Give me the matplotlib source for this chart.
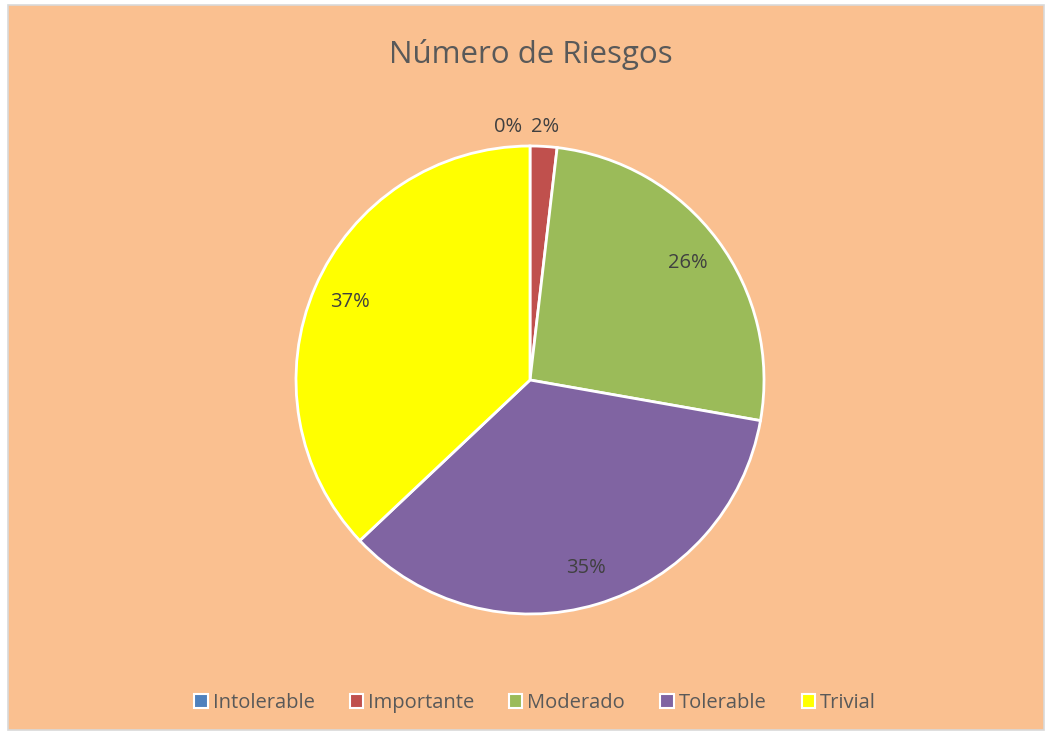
import matplotlib.pyplot as plt
import numpy as np
from matplotlib.patches import Rectangle, Patch

categories = ["Intolerable", "Importante", "Moderado", "Tolerable", "Trivial"]
counts = [0, 1, 14, 19, 20]
colors = ["#4F81BD", "#C0504D", "#9BBB59", "#8064A2", "#FFFF00"]

W, H = 1048, 735
fig = plt.figure(figsize=(W / 100, H / 100), dpi=100)
fig.patch.set_facecolor("white")
plt.rcParams["font.family"] = ["Open Sans", "DejaVu Sans"]

# fondo del gráfico
fig.patches.append(Rectangle((8 / W, 5 / H), 1036 / W, 725 / H,
                             transform=fig.transFigure, facecolor="#FAC090",
                             edgecolor="#D9D9D9", linewidth=1.2, zorder=-5))

fig.text(531 / W, 1 - 55 / H, "Número de Riesgos", ha="center", va="center",
         fontsize=22.5, color="#595959")

cx, cy, r = 530, 380, 234
ax = fig.add_axes([(cx - r) / W, (H - cy - r) / H, 2 * r / W, 2 * r / H])

total = sum(counts)
wedges, _, autotexts = ax.pie(
    counts, colors=colors, startangle=90, counterclock=False, radius=1,
    autopct=lambda p: f"{p:.0f}%" if p > 5 else "", pctdistance=0.84,
    wedgeprops=dict(edgecolor="white", linewidth=2),
    textprops=dict(fontsize=14.5, color="#404040"),
)
ax.set_xlim(-1, 1)
ax.set_ylim(-1, 1)
ax.axis("off")

# etiquetas de las porciones pequeñas, fuera del círculo
for w, c, shift in zip(wedges, counts, [5, 0, 0, 0, 0]):
    if c / total * 100 > 5:
        continue
    ang = np.deg2rad((w.theta1 + w.theta2) / 2 + shift)
    ax.text(1.085 * np.cos(ang), 1.085 * np.sin(ang), f"{c / total * 100:.0f}%",
            ha="center", va="center", fontsize=14.5, color="#404040", clip_on=False)

handles = [Patch(facecolor=c, edgecolor="white", linewidth=1.5) for c in colors]
fig.legend(handles, categories, loc="center", bbox_to_anchor=(535 / W, 1 - 703 / H),
           ncol=5, frameon=False, fontsize=14.5, labelcolor="#595959",
           handlelength=0.65, handleheight=0.65, handletextpad=0.25, columnspacing=1.75)

fig.savefig("out.png", dpi=100)
